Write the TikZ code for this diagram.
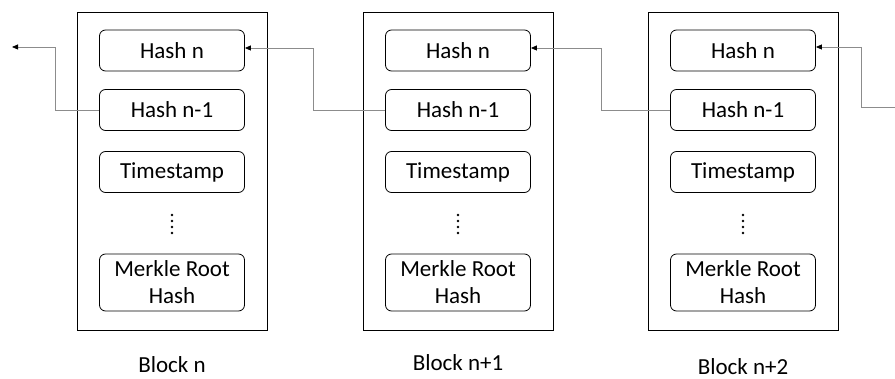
\documentclass[tikz,border=0pt]{standalone}
\usepackage{fontspec}
\setmainfont{Carlito}
\usetikzlibrary{arrows.meta}
\begin{document}
\begin{tikzpicture}[x=1pt,y=-1pt,
  blockbox/.style={draw=black,line width=0.9pt},
  field/.style={draw=black,line width=0.8pt,rounded corners=6pt,minimum width=145pt,minimum height=41pt,inner sep=0pt,font=\fontsize{23}{23}\selectfont,align=center},
  mfield/.style={field,minimum height=57pt,font=\fontsize{23}{27}\selectfont},
  link/.style={draw=black!45,line width=0.8pt,-{Triangle[length=6pt,width=5pt,fill=black,color=black]}},
  blabel/.style={font=\fontsize{23}{23}\selectfont},
  vdot/.style={fill=black,circle,inner sep=0pt,minimum size=2.6pt}
]
\useasboundingbox (0,0) rectangle (895,379);
\foreach \i/\x/\lab/\ly in {1/172/Block n/365,2/458/Block n+1/363,3/743/Block n+2/367}{
  \node[blockbox,minimum width=190pt,minimum height=318pt,inner sep=0pt] (B\i) at (\x,171) {};
  \node[field] (H\i) at (\x,50.5) {Hash n};
  \node[field] (P\i) at (\x,110) {Hash n-1};
  \node[field] (T\i) at (\x,172) {Timestamp};
  \node[mfield] (M\i) at (\x,282.5) {Merkle Root\\Hash};
  \node[blabel] (L\i) at (\x,\ly) {\lab};
  \foreach \yy [count=\k] in {215,221,227,233}{
    \node[vdot] (D\i\k) at (\x,\yy) {};
  }
}
\coordinate (endL) at (12,47);
\coordinate (startR) at (895,107);
\draw[link] (P1.west) -| (55,47) -- (endL);
\draw[link] (P2.west) -| (313,48) -- (H1.east |- 0,48);
\draw[link] (P3.west) -| (601,48) -- (H2.east |- 0,48);
\draw[link] (startR) -| (861,47) -- (H3.east |- 0,47);
\end{tikzpicture}
\end{document}
